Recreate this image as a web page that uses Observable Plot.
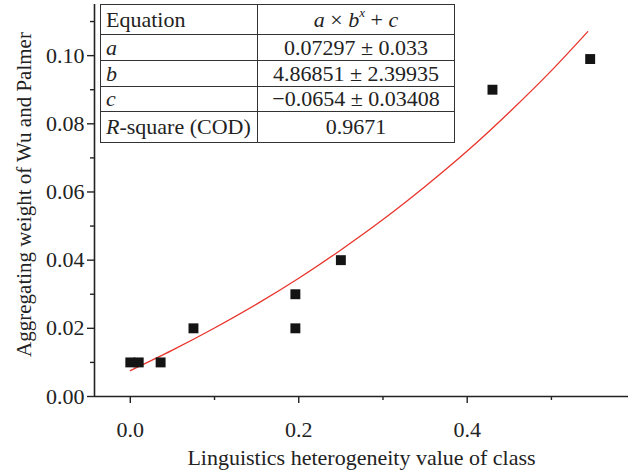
<!DOCTYPE html>
<html>
<head>
<meta charset="utf-8">
<script src="https://cdn.jsdelivr.net/npm/d3@7"></script>
<script src="https://cdn.jsdelivr.net/npm/@observablehq/plot@0.6"></script>
<style>
  html, body { margin: 0; padding: 0; background: #fff; }
  #wrap { position: relative; width: 634px; height: 472px; font-family: "Liberation Serif", "DejaVu Serif", serif; }
  #fit { position: absolute; left: 100px; top: 4px; border-collapse: collapse; font-size: 22px; color: #222; background: #fff; }
  #fit td { border: 1.5px solid #333; padding: 0 5px; line-height: 1; white-space: nowrap; }
  #fit td.v { text-align: center; width: 186px; }
  #fit td.k { width: 146px; }
  #fit i { font-style: italic; }
</style>
</head>
<body>
<div id="wrap"></div>
<script>
// Data
const xValues = [0.0, 0.01, 0.036, 0.075, 0.196, 0.196, 0.25, 0.43, 0.546];
const yValues = [0.01, 0.01, 0.01, 0.02, 0.02, 0.03, 0.04, 0.09, 0.099];

// Fitted curve as drawn
const fitX = [0, 0.05, 0.1, 0.15, 0.2, 0.25, 0.3, 0.35, 0.4, 0.45, 0.5, 0.543];
const fitY = [0.0076, 0.0136, 0.0201, 0.0271, 0.0347, 0.0430, 0.0519, 0.0616, 0.0720, 0.0834, 0.0956, 0.1070];

// Tick labels
const xMajor = [0.0, 0.2, 0.4];
const xMinor = [0.1, 0.3, 0.5];
const yMajor = [0.00, 0.02, 0.04, 0.06, 0.08, 0.10];
const yMinor = [0.01, 0.03, 0.05, 0.07, 0.09, 0.11];

// Axis titles
const xTitle = "Linguistics heterogeneity value of class";
const yTitle = "Aggregating weight of Wu and Palmer";

// Table text
const tableRows = [
  ["Equation", "<i>a</i> × <i>b</i><sup style='font-size:13px;position:relative;top:-2px'><i>x</i></sup> + <i>c</i>"],
  ["<i>a</i>", "0.07297 ± 0.033"],
  ["<i>b</i>", "4.86851 ± 2.39935"],
  ["<i>c</i>", "−0.0654 ± 0.03408"],
  ["<i>R</i>-square (COD)", "0.9671"]
];
const rowHeights = [30, 26, 26, 25, 31];

const points = xValues.map((x, i) => ({x, y: yValues[i]}));
const fit = fitX.map((x, i) => ({x, y: fitY[i]}));

const xDomain = [-0.0425, 0.5915];
const yDomain = [0, 0.115];
const axisColor = "#222";

const chart = Plot.plot({
  width: 634,
  height: 472,
  marginLeft: 94,
  marginTop: 4,
  marginBottom: 76,
  marginRight: 6,
  style: {fontFamily: "'Liberation Serif', serif", fontSize: "21px", color: "#222", background: "#fff"},
  x: {domain: xDomain},
  y: {domain: yDomain},
  marks: [
    Plot.ruleY([yDomain[0]], {stroke: axisColor, strokeWidth: 1.6}),
    Plot.ruleX([xDomain[0]], {stroke: axisColor, strokeWidth: 1.6}),
    Plot.axisX({ticks: xMajor, tickFormat: d3.format(".1f"), tickSize: 7, tickPadding: 18, stroke: axisColor, strokeWidth: 1.4,
      fontSize: 22, label: xTitle, labelAnchor: "center", labelOffset: 68, labelArrow: "none"}),
    Plot.axisX({ticks: xMinor, tickFormat: () => "", tickSize: 4, stroke: axisColor, strokeWidth: 1.4, label: null}),
    Plot.axisY({ticks: yMajor, tickFormat: d3.format(".2f"), tickSize: 7, tickPadding: 3, stroke: axisColor, strokeWidth: 1.4,
      fontSize: 22, label: null}),
    Plot.axisY({ticks: yMinor, tickFormat: () => "", tickSize: 4, stroke: axisColor, strokeWidth: 1.4, label: null}),
    Plot.text([yTitle], {frameAnchor: "left", textAnchor: "middle", lineAnchor: "middle", rotate: -90, dx: -70, dy: -6, fontSize: 21, fill: "#222", text: d => d}),
    Plot.line(fit, {x: "x", y: "y", stroke: "#e8342b", strokeWidth: 1.3, curve: "monotone-x"}),
    Plot.dot(points, {x: "x", y: "y", symbol: "square", r: 5.6, fill: "#141414", stroke: "none"})
  ]
});

const wrap = document.getElementById("wrap");
wrap.appendChild(chart);

const table = document.createElement("table");
table.id = "fit";
tableRows.forEach((r, i) => {
  const tr = document.createElement("tr");
  tr.style.height = rowHeights[i] + "px";
  const k = document.createElement("td"); k.className = "k"; k.innerHTML = r[0];
  const v = document.createElement("td"); v.className = "v"; v.innerHTML = r[1];
  tr.appendChild(k); tr.appendChild(v);
  table.appendChild(tr);
});
wrap.appendChild(table);
</script>
</body>
</html>
